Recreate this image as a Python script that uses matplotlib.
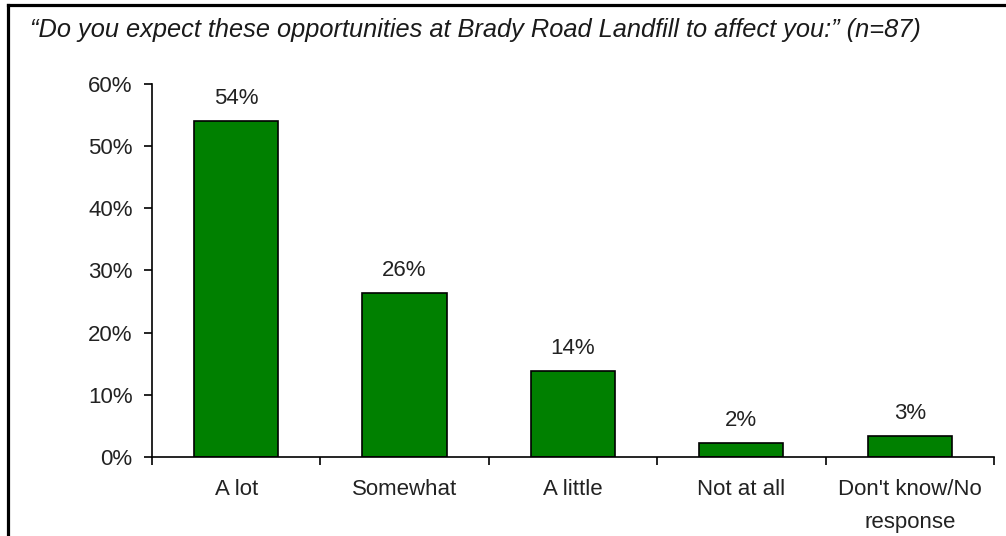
import matplotlib
matplotlib.use("Agg")
import matplotlib.pyplot as plt
from matplotlib.lines import Line2D
from matplotlib.ticker import FixedLocator

plt.rcParams['font.family'] = ['Liberation Sans', 'DejaVu Sans']

# Survey responses (n=87), as percentages of respondents
categories = ["A lot", "Somewhat", "A little", "Not at all", "Don't know/No\nresponse"]
counts = [47, 23, 12, 2, 3]
n_respondents = 87
percentages = [100.0 * c / n_respondents for c in counts]
y_ticks = [0, 10, 20, 30, 40, 50, 60]
title = "\u201cDo you expect these opportunities at Brady Road Landfill to affect you:\u201d (n=87)"

fig = plt.figure(figsize=(10.06, 5.36), dpi=100)
ax = fig.add_axes([0.1511, 0.1474, 0.988 - 0.1511, 0.8433 - 0.1474])

x = list(range(len(categories)))
bars = ax.bar(x, percentages, width=0.5, color="#008000", edgecolor="black", linewidth=1.2)

for xi, val in zip(x, percentages):
    ax.annotate(f"{val:.0f}%", xy=(xi, val), xytext=(0, 8.5), textcoords="offset points",
                ha="center", va="bottom", fontsize=16, color="#222222")

ax.set_xlim(-0.5, len(categories) - 0.5)
ax.set_ylim(0, 60)
ax.set_yticks(y_ticks)
ax.set_yticklabels([f"{t}%" for t in y_ticks])

ax.set_xticks(x)
ax.set_xticklabels(categories, linespacing=1.75)
ax.xaxis.set_minor_locator(FixedLocator([i - 0.5 for i in range(len(categories) + 1)]))
ax.tick_params(axis="x", which="major", length=0, pad=16, labelsize=16, labelcolor="#222222")
ax.tick_params(axis="x", which="minor", length=6, width=1.2, direction="out")
ax.tick_params(axis="y", length=6, width=1.2, pad=8, labelsize=16, labelcolor="#222222")

for side in ("top", "right"):
    ax.spines[side].set_visible(False)
for side in ("left", "bottom"):
    ax.spines[side].set_linewidth(1.2)

# Outer frame: top and left edges
fig.add_artist(Line2D([0.008, 1.0], [0.9907, 0.9907], transform=fig.transFigure,
                      color="black", linewidth=2.3))
fig.add_artist(Line2D([0.008, 0.008], [0.0, 0.9907], transform=fig.transFigure,
                      color="black", linewidth=2.3))

fig.text(0.0298, 0.944, title, ha="left", va="center", fontsize=18.3, style="italic",
         color="#1a1a1a")

fig.savefig("out.png", dpi=100)
